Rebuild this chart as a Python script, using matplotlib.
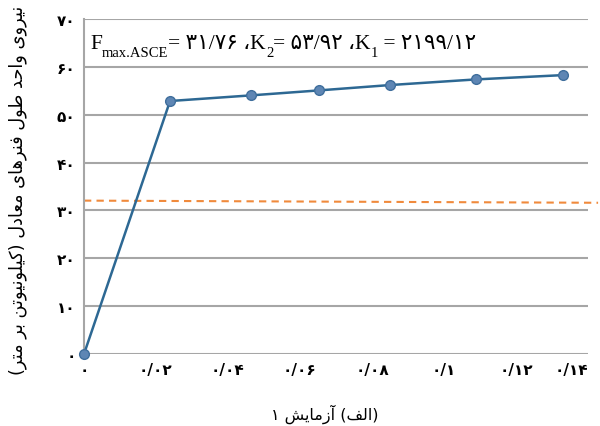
import unicodedata
import matplotlib
matplotlib.use("Agg")
import matplotlib.pyplot as plt

# ---------------- data ----------------
strain = [0.0, 0.0239, 0.0464, 0.0653, 0.0849, 0.1088, 0.1330]
force = [0.0, 52.86, 54.04, 55.08, 56.19, 57.37, 58.27]
fmax_x = [0.0, 0.1428]
fmax_y = [32.05, 31.60]
xticks = [0, 0.02, 0.04, 0.06, 0.08, 0.10, 0.12, 0.14]
xtick_labels = ['۰', '۰/۰۲', '۰/۰۴', '۰/۰۶', '۰/۰۸', '۰/۱', '۰/۱۲', '۰/۱۴']
yticks = [0, 10, 20, 30, 40, 50, 60, 70]
ytick_labels = ['۰', '۱۰', '۲۰', '۳۰', '۴۰', '۵۰', '۶۰', '۷۰']


# ---------------- simple Persian shaping (visual order) ----------------
def _form(ch, form):
    try:
        return unicodedata.lookup(unicodedata.name(ch) + ' ' + form + ' FORM')
    except KeyError:
        return None


def _is_letter(ch):
    return '\u0600' <= ch <= '\u06FF' and unicodedata.category(ch) == 'Lo'


def _dual(ch):
    return _is_letter(ch) and _form(ch, 'INITIAL') is not None


def vis_word(word):
    out = []
    n = len(word)
    for i, ch in enumerate(word):
        if not _is_letter(ch):
            out.append(ch)
            continue
        pj = i > 0 and _dual(word[i - 1])
        nj = i < n - 1 and _is_letter(word[i + 1]) and _dual(ch)
        if pj and nj:
            f = 'MEDIAL'
        elif pj:
            f = 'FINAL'
        elif nj:
            f = 'INITIAL'
        else:
            f = 'ISOLATED'
        out.append(_form(ch, f) or ch)
    return ''.join(reversed(out))


def vis_phrase(text):
    return ' '.join(vis_word(w) for w in reversed(text.split(' ')))


ylabel_text = ('(' + vis_phrase('کیلونیوتن بر متر') + ') '
               + vis_phrase('نیروی واحد طول فنرهای معادل'))
xlabel_text = '۱ ' + vis_word('آزمایش') + ' (' + vis_word('الف') + ')'

# ---------------- figure ----------------
fig = plt.figure(figsize=(6.0, 4.27), dpi=100)
ax = fig.add_axes([0.14, 0.1686, 0.84, 0.7846])

grid_c = '#A6A6A6'
for v in yticks[1:]:
    ax.axhline(v, color=grid_c, lw=1.5, zorder=1)
ax.axhline(0, color=grid_c, lw=1.5, zorder=1)

ax.plot(fmax_x, fmax_y, color='#F08A3C', lw=1.5, ls=(0, (3.5, 2.5)),
        zorder=2, clip_on=False)
ax.plot(strain, force, color='#2D6893', lw=1.8, marker='o', markersize=7,
        markerfacecolor='#5E86B4', markeredgecolor='#3F6E9C',
        markeredgewidth=1.0, zorder=3, clip_on=False)

ax.set_xlim(0, 0.14)
ax.set_ylim(0, 70)
for s in ['top', 'right', 'bottom']:
    ax.spines[s].set_visible(False)
ax.spines['left'].set_color(grid_c)
ax.spines['left'].set_linewidth(1.5)

ax.set_xticks(xticks)
ax.set_xticklabels(xtick_labels, family=['DejaVu Sans'], fontsize=11,
                   fontweight='bold')
ax.get_xticklabels()[-1].set_horizontalalignment('right')
ax.set_yticks(yticks)
ax.set_yticklabels(ytick_labels, family=['DejaVu Sans'], fontsize=11,
                   fontweight='bold')
ax.tick_params(length=0, pad=6)

fig.text(0.03, 0.555, ylabel_text, rotation=90, ha='center', va='center',
         family=['DejaVu Sans'], fontsize=12.8)
fig.text(0.542, 0.03, xlabel_text, ha='center', va='center',
         family=['DejaVu Sans'], fontsize=11.5)

# title built from chained pieces
fam = ['Liberation Serif', 'DejaVu Sans']
big = 15.5
small = 10.5
t0 = ax.text(0.012, 0.912, 'F', transform=ax.transAxes, fontsize=big,
             family=fam, ha='left', va='baseline')
t1 = ax.annotate('max.ASCE', xy=(1, 0), xycoords=t0, xytext=(0, -4),
                 textcoords='offset points', fontsize=small, family=fam,
                 ha='left', va='bottom')
t2 = ax.annotate('= ۳۱/۷۶ ،K', xy=(1, 0), xycoords=(t1, t0), fontsize=big,
                 family=fam, ha='left', va='bottom')
t3 = ax.annotate('2', xy=(1, 0), xycoords=t2, xytext=(0, -4),
                 textcoords='offset points', fontsize=small, family=fam,
                 ha='left', va='bottom')
t4 = ax.annotate('= ۵۳/۹۲ ،K', xy=(1, 0), xycoords=(t3, t0), fontsize=big,
                 family=fam, ha='left', va='bottom')
t5 = ax.annotate('1', xy=(1, 0), xycoords=t4, xytext=(0, -4),
                 textcoords='offset points', fontsize=small, family=fam,
                 ha='left', va='bottom')
t6 = ax.annotate(' = ۲۱۹۹/۱۲', xy=(1, 0), xycoords=(t5, t0), fontsize=big,
                 family=fam, ha='left', va='bottom')

fig.savefig('out.png', dpi=100)
